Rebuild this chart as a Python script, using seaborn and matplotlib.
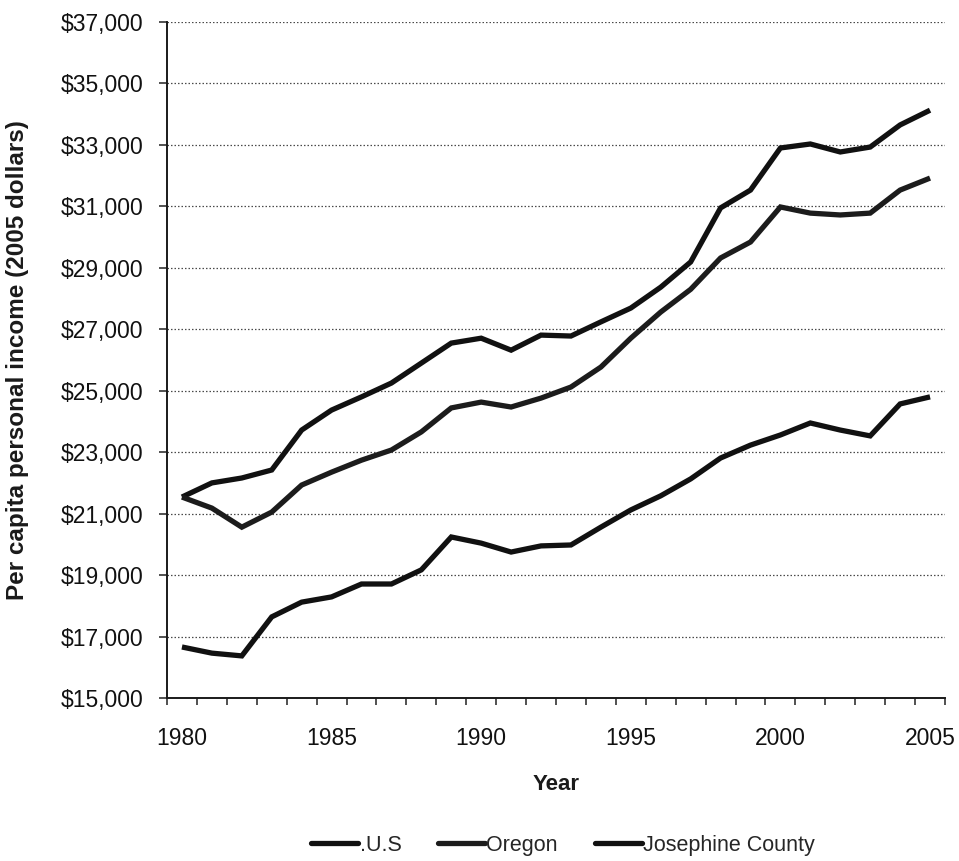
import numpy as np
import pandas as pd
import seaborn as sns
import matplotlib
matplotlib.use("Agg")
import matplotlib.pyplot as plt
from matplotlib.ticker import FuncFormatter, FixedLocator

# Per capita personal income, 2005 dollars
years = list(range(1980, 2006))
us = [21540, 22000, 22160, 22420, 23720, 24370, 24800, 25250, 25900, 26550,
      26710, 26320, 26810, 26780, 27240, 27690, 28370, 29190, 30950, 31530,
      32900, 33030, 32770, 32930, 33650, 34130]
oregon = [21540, 21180, 20560, 21050, 21930, 22350, 22740, 23070, 23660, 24440,
          24630, 24470, 24760, 25120, 25770, 26710, 27560, 28300, 29320, 29840,
          30980, 30780, 30720, 30780, 31530, 31920]
josephine = [16660, 16460, 16370, 17640, 18120, 18290, 18710, 18710, 19170, 20240,
             20040, 19750, 19950, 19980, 20560, 21120, 21580, 22130, 22810, 23230,
             23560, 23950, 23720, 23530, 24570, 24800]
series_names = [".U.S", "Oregon", "Josephine County"]
year_labels = [1980, 1985, 1990, 1995, 2000, 2005]
y_ticks = list(range(15000, 37001, 2000))

df = pd.DataFrame({
    "Year": years * 3,
    "Income": us + oregon + josephine,
    "Series": [series_names[0]] * len(years) + [series_names[1]] * len(years)
              + [series_names[2]] * len(years),
})

sns.set_theme(style="white")
plt.rcParams["font.family"] = ["Liberation Sans", "DejaVu Sans"]

fig = plt.figure(figsize=(9.59, 8.61), dpi=100)
ax = fig.add_axes([167 / 959, 1 - 698 / 861, (945 - 167) / 959, (698 - 22) / 861])

palette = {".U.S": "#111111", "Oregon": "#1c1c1c", "Josephine County": "#111111"}
sns.lineplot(data=df, x="Year", y="Income", hue="Series", hue_order=series_names,
             palette=palette, linewidth=3.8, ax=ax, legend=False,
             solid_joinstyle="miter", solid_capstyle="butt")

ax.set_xlim(1979.5, 2005.5)
ax.set_ylim(15000, 37000)

# y axis: dollar labels every $2,000 with dotted gridlines
ax.yaxis.set_major_locator(FixedLocator(y_ticks))
ax.yaxis.set_major_formatter(FuncFormatter(lambda v, p: f"${v:,.0f}"))
for v in y_ticks[1:]:
    ax.axhline(v, color="#4a4a4a", linewidth=0.9, linestyle=(0, (1.2, 1.6)), zorder=0)

# x axis: labels every five years, tick marks between years
ax.xaxis.set_major_locator(FixedLocator(year_labels))
ax.set_xticklabels([str(y) for y in year_labels])
ax.xaxis.set_minor_locator(FixedLocator(np.arange(1979.5, 2005.6, 1.0)))
ax.tick_params(axis="x", which="major", length=0, pad=21, labelsize=16.5, colors="#111111")
ax.tick_params(axis="x", which="minor", length=5, width=1.1, direction="out",
               color="#222222", bottom=True)
ax.tick_params(axis="y", which="major", length=6, width=1.1, direction="out",
               color="#222222", left=True, pad=11, labelsize=16.5, labelcolor="#111111")

for side in ["top", "right"]:
    ax.spines[side].set_visible(False)
for side in ["left", "bottom"]:
    ax.spines[side].set_color("#1a1a1a")
    ax.spines[side].set_linewidth(1.4)

ax.set_xlabel("Year", fontsize=16, fontweight="bold", labelpad=17, color="#1a1a1a")
ax.set_ylabel("Per capita personal income (2005 dollars)", fontsize=17.5,
              fontweight="bold", color="#1a1a1a")
ax.yaxis.set_label_coords(-0.178, 0.5)

handles = [plt.Line2D([], [], color=palette[n], linewidth=3.8) for n in series_names]
fig.legend(handles, series_names, loc="center", bbox_to_anchor=(0.587, 0.018),
           ncol=3, frameon=False, fontsize=15.5, handlelength=2.2,
           handletextpad=0.05, columnspacing=1.7)

fig.savefig("out.png", dpi=100, facecolor="white")
